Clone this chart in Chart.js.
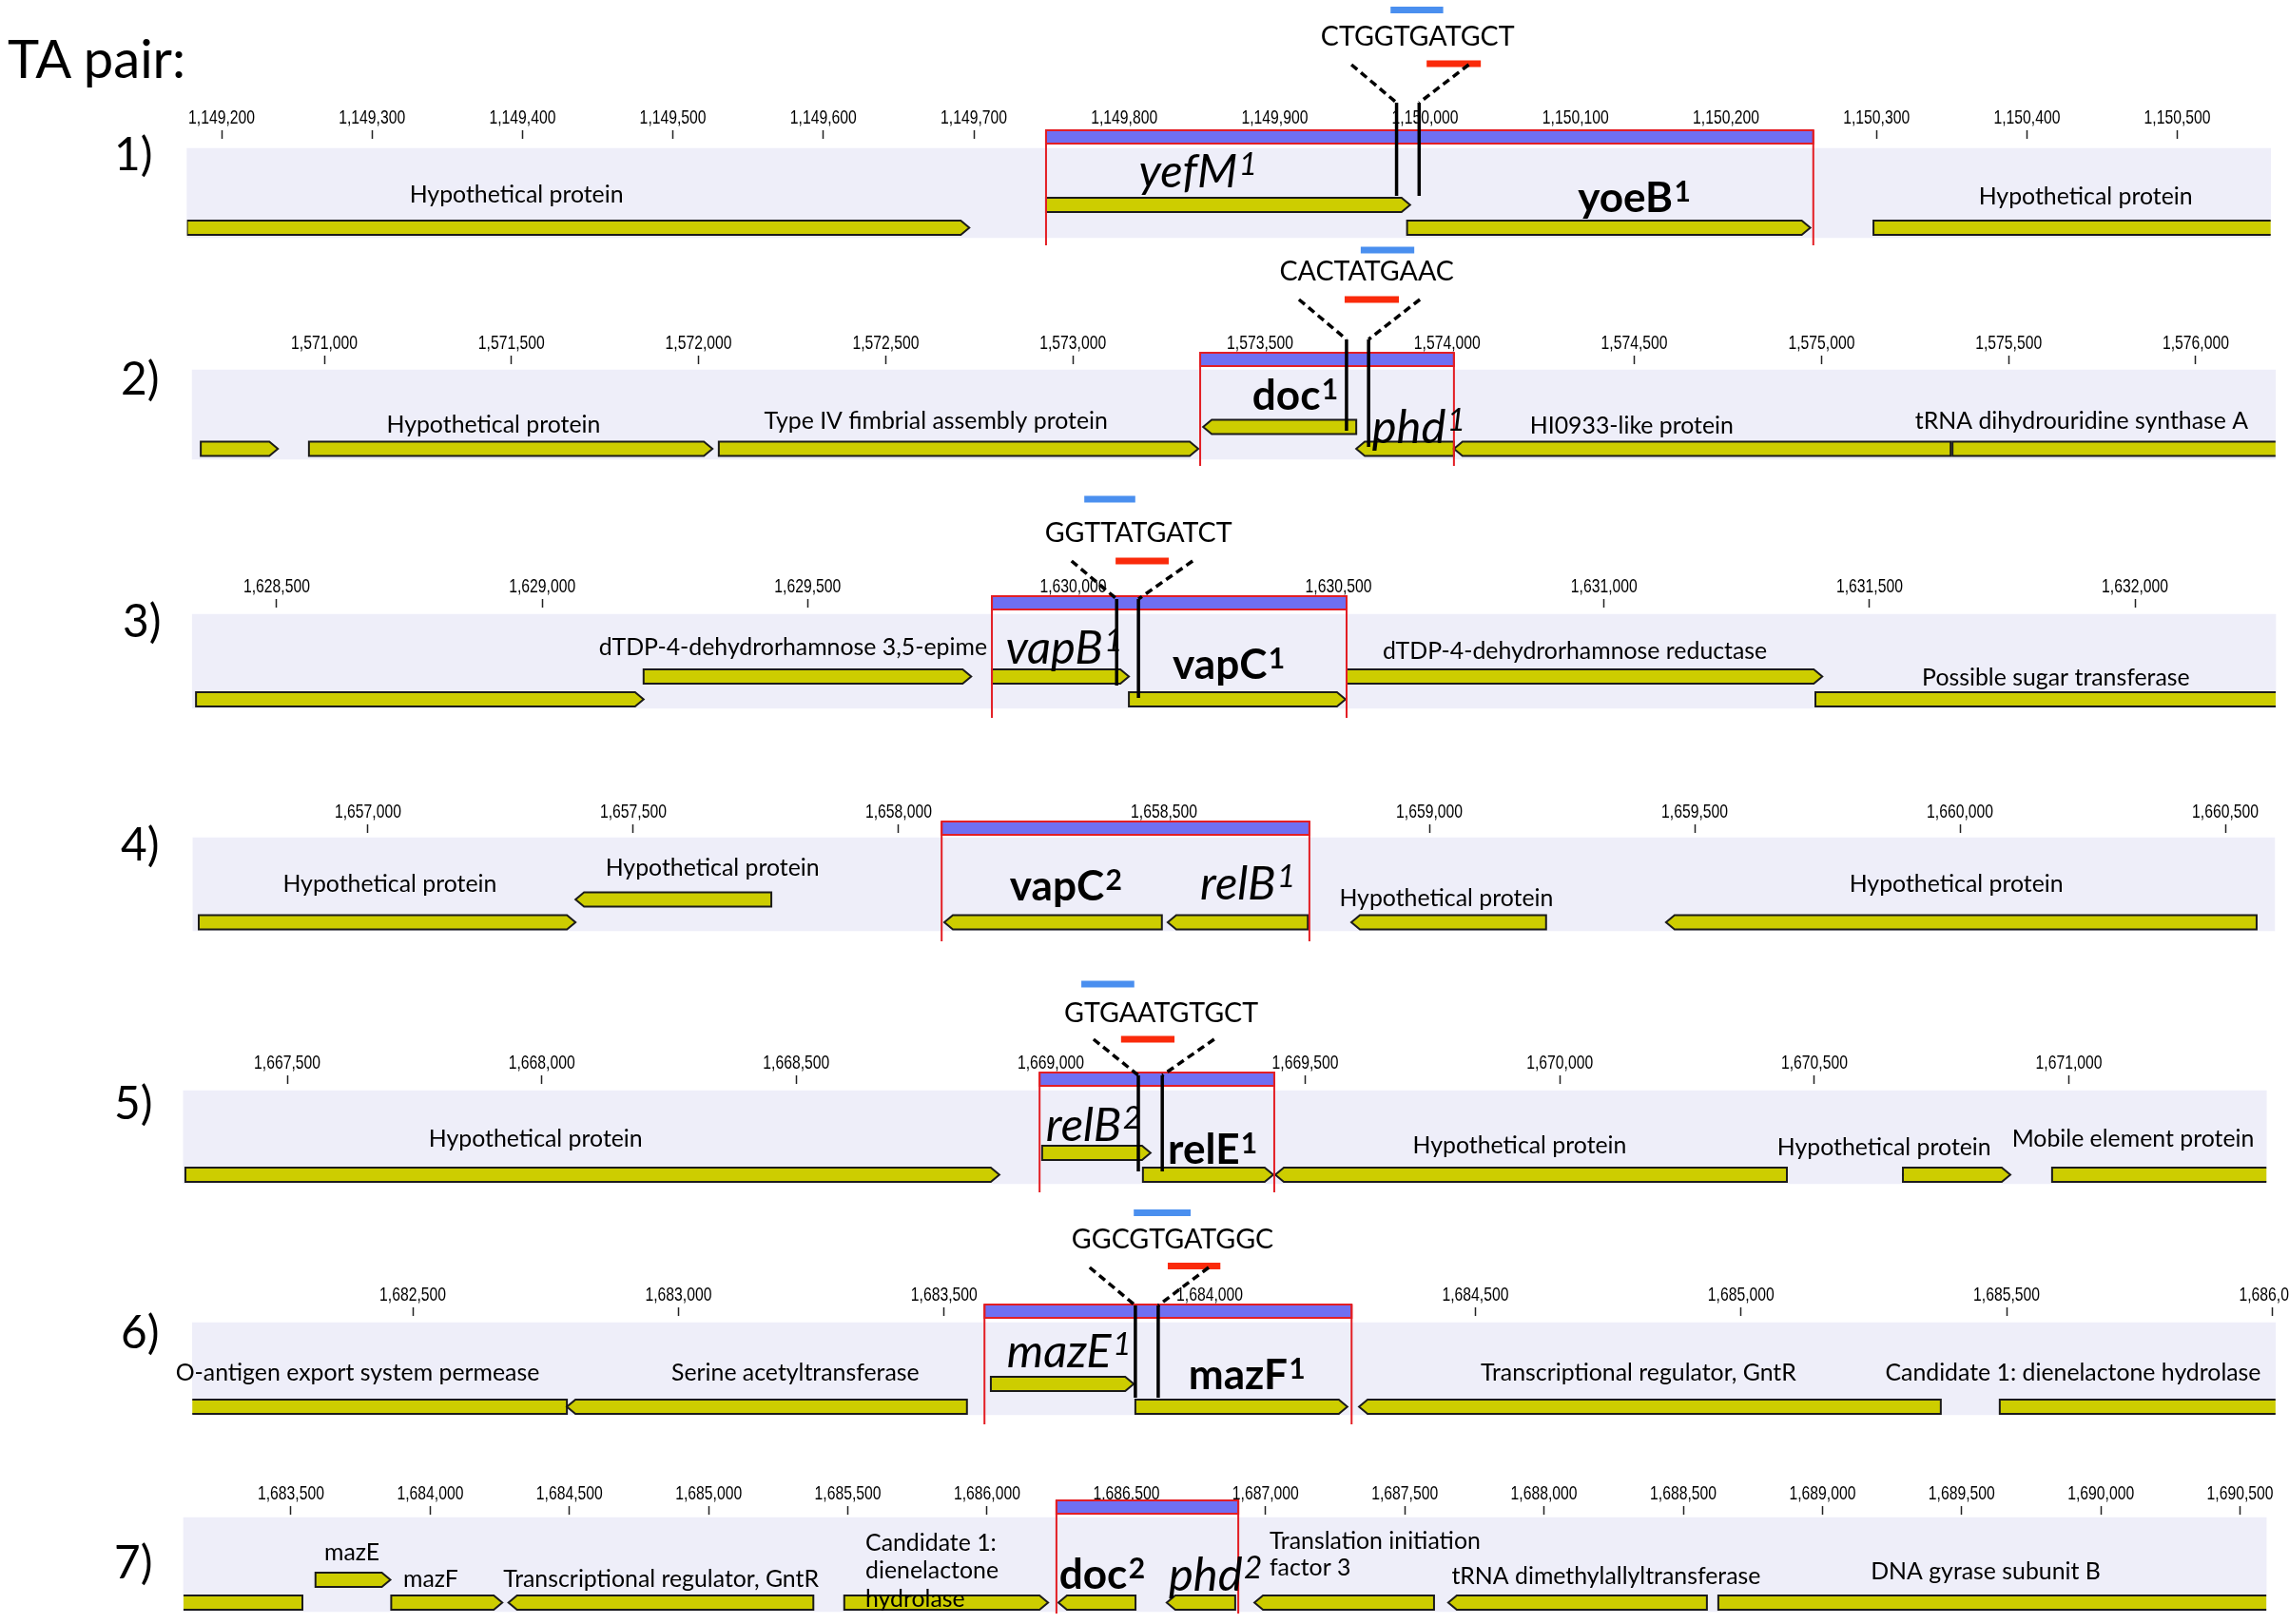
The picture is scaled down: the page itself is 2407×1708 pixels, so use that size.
<!DOCTYPE html>
<html>
<head>
<meta charset="utf-8">
<title>TA pairs</title>
<script src="https://cdn.jsdelivr.net/npm/chart.js"></script>
<style>
  html, body { margin: 0; padding: 0; background: #fff; }
  #page { position: relative; width: 2407px; height: 1708px; overflow: hidden; background: #fff; }
  .trk { position: absolute; left: 0; }
  .head { position: absolute; font-family: Lato, "Open Sans", sans-serif; line-height: 1; white-space: nowrap; color: #000; }
</style>
</head>
<body>
<div id="page"></div>
<script>
// ---- tick labels (bp) for each track
const ticks1 = [1149200, 1149300, 1149400, 1149500, 1149600, 1149700, 1149800, 1149900, 1150000, 1150100, 1150200, 1150300, 1150400, 1150500];
const ticks2 = [1571000, 1571500, 1572000, 1572500, 1573000, 1573500, 1574000, 1574500, 1575000, 1575500, 1576000];
const ticks3 = [1628500, 1629000, 1629500, 1630000, 1630500, 1631000, 1631500, 1632000];
const ticks4 = [1657000, 1657500, 1658000, 1658500, 1659000, 1659500, 1660000, 1660500];
const ticks5 = [1667500, 1668000, 1668500, 1669000, 1669500, 1670000, 1670500, 1671000];
const ticks6 = [1682500, 1683000, 1683500, 1684000, 1684500, 1685000, 1685500, 1686000];
const ticks7 = [1683500, 1684000, 1684500, 1685000, 1685500, 1686000, 1686500, 1687000, 1687500, 1688000, 1688500, 1689000, 1689500, 1690000, 1690500];

// ---- shown sequence (lavender band) and TA region (red box), bp
const view1 = [1149177, 1150562], box1 = [1149748, 1150258];
const view2 = [1570647, 1576213], box2 = [1573340, 1574018];
const view3 = [1628341, 1632265], box3 = [1629847, 1630515];
const view4 = [1656670, 1660593], box4 = [1658081, 1658774];
const view5 = [1667296, 1671388], box5 = [1668978, 1669439];
const view6 = [1682085, 1686006], box6 = [1683576, 1684267];
const view7 = [1683114, 1690594], box7 = [1686249, 1686902];

// ---- genes: [start, end, strand, row]  row 0 = upper, 1 = lower
const genes1 = [[1149177, 1149697, 1, 1], [1149748, 1149990, 1, 0], [1149988, 1150256, 1, 1], [1150298, 1150700, 1, 1]];
const genes2 = [[1570670, 1570876, 1, 1], [1570959, 1572037, 1, 1], [1572054, 1573335, 1, 1], [1573348, 1573757, -1, 0],
                [1573757, 1574018, -1, 1], [1574018, 1575345, -1, 1], [1575350, 1576400, 1, 1]];
const genes3 = [[1628348, 1629191, 1, 1], [1629191, 1629808, 1, 0], [1629847, 1630105, 1, 0], [1630105, 1630513, 1, 1],
                [1630515, 1631411, 1, 0], [1631398, 1632400, 1, 1]];
const genes4 = [[1656681, 1657391, 1, 1], [1657391, 1657760, -1, 0], [1658086, 1658496, -1, 1], [1658507, 1658771, -1, 1],
                [1658853, 1659220, -1, 1], [1659446, 1660559, -1, 1]];
const genes5 = [[1667300, 1668899, 1, 1], [1668983, 1669196, 1, 0], [1669181, 1669437, 1, 1], [1669441, 1670446, -1, 1],
                [1670674, 1670885, 1, 1], [1670967, 1671500, 1, 1]];
const genes6 = [[1682000, 1682790, -1, 1], [1682790, 1683543, -1, 1], [1683588, 1683857, 1, 0], [1683860, 1684259, 1, 1],
                [1684281, 1685376, -1, 1], [1685487, 1686200, 1, 1]];
const genes7 = [[1683000, 1683541, -1, 1], [1683588, 1683857, 1, 0], [1683860, 1684259, 1, 1], [1684281, 1685376, -1, 1],
                [1685487, 1686219, 1, 1], [1686256, 1686533, -1, 1], [1686645, 1686891, -1, 1], [1686960, 1687605, -1, 1],
                [1687656, 1688585, -1, 1], [1688626, 1690800, 1, 1]];

// ---- gene names (at = bp anchor, dy = px below band top, s = b/i big, a = l/r align)
const labels1 = [
  { t: 'Hypothetical protein', at: 1149396, dy: 51 },
  { t: 'yefM', sup: '1', s: 'i', at: 1149849, dy: 28 },
  { t: 'yoeB', sup: '1', s: 'b', at: 1150139, dy: 56 },
  { t: 'Hypothetical protein', at: 1150439, dy: 53 }
];
const labels2 = [
  { t: 'Hypothetical protein', at: 1571452, dy: 60 },
  { t: 'Type IV fimbrial assembly protein', at: 1572634, dy: 56 },
  { t: 'doc', sup: '1', s: 'b', at: 1573594, dy: 31 },
  { t: 'phd', sup: '1', s: 'i', at: 1573924, dy: 64 },
  { t: 'HI0933-like protein', at: 1574493, dy: 61 },
  { t: 'tRNA dihydrouridine synthase A', at: 1575695, dy: 56 }
];
const labels3 = [
  { t: 'dTDP-4-dehydrorhamnose 3,5-epime', at: 1629838, dy: 37, a: 'r' },
  { t: 'vapB', sup: '1', s: 'i', at: 1629983, dy: 39 },
  { t: 'vapC', sup: '1', s: 'b', at: 1630293, dy: 57 },
  { t: 'dTDP-4-dehydrorhamnose reductase', at: 1630945, dy: 41 },
  { t: 'Possible sugar transferase', at: 1631851, dy: 69 }
];
const labels4 = [
  { t: 'Hypothetical protein', at: 1657041, dy: 51 },
  { t: 'Hypothetical protein', at: 1657649, dy: 34 },
  { t: 'vapC', sup: '2', s: 'b', at: 1658315, dy: 55 },
  { t: 'relB', sup: '1', s: 'i', at: 1658658, dy: 52 },
  { t: 'Hypothetical protein', at: 1659032, dy: 66 },
  { t: 'Hypothetical protein', at: 1659993, dy: 51 }
];
const labels5 = [
  { t: 'Hypothetical protein', at: 1667988, dy: 53 },
  { t: 'relB', sup: '2', s: 'i', at: 1669084, dy: 40 },
  { t: 'relE', sup: '1', s: 'b', at: 1669318, dy: 66 },
  { t: 'Hypothetical protein', at: 1669921, dy: 60 },
  { t: 'Hypothetical protein', at: 1670637, dy: 62 },
  { t: 'Mobile element protein', at: 1671126, dy: 53 }
];
const labels6 = [
  { t: 'O-antigen export system permease', at: 1682396, dy: 55 },
  { t: 'Serine acetyltransferase', at: 1683220, dy: 55 },
  { t: 'mazE', sup: '1', s: 'i', at: 1683735, dy: 34 },
  { t: 'mazF', sup: '1', s: 'b', at: 1684070, dy: 59 },
  { t: 'Transcriptional regulator, GntR', at: 1684807, dy: 55 },
  { t: 'Candidate 1: dienelactone hydrolase', at: 1685625, dy: 55 }
];
const labels7 = [
  { t: 'mazE', at: 1683719, dy: 39 },
  { t: 'mazF', at: 1684002, dy: 67 },
  { t: 'Transcriptional regulator, GntR', at: 1684829, dy: 67 },
  { t: 'Candidate 1:', at: 1685563, dy: 29, a: 'l' },
  { t: 'dienelactone', at: 1685563, dy: 58, a: 'l' },
  { t: 'hydrolase', at: 1685563, dy: 88, a: 'l' },
  { t: 'doc', sup: '2', s: 'b', at: 1686413, dy: 64 },
  { t: 'phd', sup: '2', s: 'i', at: 1686820, dy: 64 },
  { t: 'Translation initiation', at: 1687014, dy: 27, a: 'l' },
  { t: 'factor 3', at: 1687014, dy: 55, a: 'l' },
  { t: 'tRNA dimethylallyltransferase', at: 1688223, dy: 64 },
  { t: 'DNA gyrase subunit B', at: 1689586, dy: 59 }
];

// ---- sequence at the junction: text, cut points, blue / red marks, flare tops (bp)
const site1 = { seq: 'CTGGTGATGCT', at: 1149995, cuts: [1149981, 1149996], blue: [1149977, 1150012], red: [1150001, 1150037], flare: [1149951, 1150029] };
const site2 = { seq: 'CACTATGAAC', at: 1573785, cuts: [1573731, 1573790], blue: [1573769, 1573912], red: [1573726, 1573871], flare: [1573604, 1573927] };
const site3 = { seq: 'GGTTATGATCT', at: 1630123, cuts: [1630082, 1630123], blue: [1630021, 1630117], red: [1630080, 1630180], flare: [1629997, 1630225] };
const site5 = { seq: 'GTGAATGTGCT', at: 1669217, cuts: [1669172, 1669219], blue: [1669060, 1669164], red: [1669138, 1669243], flare: [1669084, 1669321] };
const site6 = { seq: 'GGCGTGATGGC', at: 1683930, cuts: [1683860, 1683903], blue: [1683857, 1683964], red: [1683921, 1684020], flare: [1683774, 1683998] };

// vertical layout of the site drawing, px from band top
const siteY1 = { text: -118, blue: -145.5, red: -89, dashTop: -88, dashBot: -48, ends: [50, 50] };
const siteY2 = { text: -104, blue: -126, red: -74, dashTop: -74, dashBot: -32, ends: [64, 81] };
const siteY3 = { text: -86, blue: -121, red: -56, dashTop: -56, dashBot: -16, ends: [75, 88] };
const siteY5 = { text: -82, blue: -112, red: -54, dashTop: -54, dashBot: -16, ends: [85, 85] };
const siteY6 = { text: -88, blue: -115.5, red: -59.5, dashTop: -58, dashBot: -18, ends: [79, 79] };

const pairNames = ['1)', '2)', '3)', '4)', '5)', '6)', '7)'];

// ---- layout / style
const pairLeft = [120, 127, 129, 127, 120, 127, 120];
const pairBase = [179, 415, 670, 905, 1177, 1418, 1660];

const tracks = [
  { axisBottom: 146, gap: 10, bandH: 94, lanes: [59.5, 83.5], boxY: [-19, 102], range: [1149052.7, 1150574.2],
    ticks: ticks1, view: view1, box: box1, genes: genes1, labels: labels1, site: site1, siteY: siteY1 },
  { axisBottom: 383, gap: 6, bandH: 94, lanes: [60, 83], boxY: [-18, 101], range: [1570133.6, 1576249],
    ticks: ticks2, view: view2, box: box2, genes: genes2, labels: labels2, site: site2, siteY: siteY2 },
  { axisBottom: 639, gap: 7, bandH: 99, lanes: [65.5, 89.5], boxY: [-19, 109], range: [1627978.8, 1632290],
    ticks: ticks3, view: view3, box: box3, genes: genes3, labels: labels3, site: site3, siteY: siteY3 },
  { axisBottom: 876, gap: 5, bandH: 98, lanes: [65, 89], boxY: [-17, 109], range: [1656306.5, 1660620],
    ticks: ticks4, view: view4, box: box4, genes: genes4, labels: labels4 },
  { axisBottom: 1140, gap: 7, bandH: 98, lanes: [65.5, 88.5], boxY: [-19, 107], range: [1666935.8, 1671432.4],
    ticks: ticks5, view: view5, box: box5, genes: genes5, labels: labels5, site: site5, siteY: siteY5 },
  { axisBottom: 1384, gap: 7, bandH: 97, lanes: [64.5, 88.5], boxY: [-19, 107], range: [1681723, 1686031.4],
    ticks: ticks6, view: view6, box: box6, genes: genes6, labels: labels6, site: site6, siteY: siteY6 },
  { axisBottom: 1593, gap: 3, bandH: 99, lanes: [65.5, 89.5], boxY: [-18, 101], range: [1682455, 1690675.5],
    ticks: ticks7, view: view7, box: box7, genes: genes7, labels: labels7 }
];

const AXIS_H = 170;
const PLOT_BELOW = 122;
const TICK_LEN = 9;
const TICK_GAP = 22;          // tick label centre above the axis line
const LABEL_FONT = 'Lato, "Open Sans", sans-serif';
const TICK_FONT = '"Liberation Sans", Arial, sans-serif';
const TICK_PX = 21;
const SUP = 0.68;
const BAND = '#eeeef9';
const GENE = '#cdcd00';
const PURPLE = '#6f6ff2';
const REDLINE = '#e31e24';
const BLUE = '#4a8fef';
const REDBAR = '#fa2a0a';

// font sizes fitted to the widths of a few reference strings
const meas = document.createElement('canvas').getContext('2d');
function fitSize(text, width, style, family) {
  meas.font = style + ' 100px ' + family;
  return 100 * width / meas.measureText(text).width;
}
const geneSize = fitSize('Hypothetical protein', 225, 'normal', LABEL_FONT);
const boldSize = fitSize('yoeB', 100, 'bold', LABEL_FONT);
const italicSize = fitSize('mazE', 110, 'italic', LABEL_FONT);
const seqSize = fitSize('CTGGTGATGCT', 204, 'normal', LABEL_FONT);
const headSize = fitSize('TA pair:', 189, 'normal', LABEL_FONT);
// tick labels are a condensed face: keep the height, squeeze the width
const tickSqueeze = fitSize('1,149,200', 70, 'normal', TICK_FONT) / TICK_PX;

const page = document.getElementById('page');

function drawTickLabels(ctx, xs, Y, t) {
  ctx.save();
  ctx.fillStyle = '#000';
  ctx.font = TICK_PX + 'px ' + TICK_FONT;
  ctx.textAlign = 'center';
  ctx.textBaseline = 'middle';
  const yc = Y(-t.gap - TICK_GAP);
  xs.ticks.forEach(tk => {
    ctx.save();
    ctx.translate(xs.getPixelForValue(tk.value), yc);
    ctx.scale(tickSqueeze, 1);
    ctx.fillText(tk.value.toLocaleString('en-US'), 0, 0);
    ctx.restore();
  });
  ctx.restore();
}

function drawLabel(ctx, lb, X, Y) {
  const s = lb.s || 'n';
  const size = s === 'b' ? boldSize : s === 'i' ? italicSize : geneSize;
  const pre = s === 'b' ? 'bold ' : s === 'i' ? 'italic ' : '';
  const supSize = size * SUP;
  ctx.font = pre + size + 'px ' + LABEL_FONT;
  const w = ctx.measureText(lb.t).width;
  let sw = 0;
  if (lb.sup) {
    ctx.font = pre + supSize + 'px ' + LABEL_FONT;
    sw = ctx.measureText(lb.sup).width + size * 0.03;
  }
  const total = w + sw;
  const ax = X(lb.at);
  const x0 = lb.a === 'l' ? ax : lb.a === 'r' ? ax - total : ax - total / 2;
  const base = Y(lb.dy) + size * 0.26;
  ctx.fillStyle = '#000';
  ctx.textAlign = 'left';
  ctx.textBaseline = 'alphabetic';
  ctx.font = pre + size + 'px ' + LABEL_FONT;
  ctx.fillText(lb.t, x0, base);
  if (lb.sup) {
    ctx.font = pre + supSize + 'px ' + LABEL_FONT;
    ctx.fillText(lb.sup, x0 + w + size * 0.03, base - size * 0.25);
  }
}

function drawSite(ctx, s, L, X, Y) {
  // blue / red marks
  ctx.fillStyle = BLUE;
  ctx.fillRect(X(s.blue[0]), Y(L.blue - 3.5), X(s.blue[1]) - X(s.blue[0]), Y(L.blue + 3.5) - Y(L.blue - 3.5));
  ctx.fillStyle = REDBAR;
  ctx.fillRect(X(s.red[0]), Y(L.red - 3.5), X(s.red[1]) - X(s.red[0]), Y(L.red + 3.5) - Y(L.red - 3.5));

  // sequence text
  ctx.fillStyle = '#000';
  ctx.font = seqSize + 'px ' + LABEL_FONT;
  ctx.textAlign = 'center';
  ctx.textBaseline = 'alphabetic';
  ctx.fillText(s.seq, X(s.at), Y(L.text) + seqSize * 0.36);

  // dashed flare
  ctx.strokeStyle = '#000';
  ctx.lineWidth = 3.5;
  ctx.setLineDash([8, 5]);
  for (let i = 0; i < 2; i++) {
    ctx.beginPath();
    ctx.moveTo(X(s.flare[i]), Y(L.dashTop));
    ctx.lineTo(X(s.cuts[i]), Y(L.dashBot));
    ctx.stroke();
  }
  ctx.setLineDash([]);
  // cut lines
  for (let i = 0; i < 2; i++) {
    ctx.beginPath();
    ctx.moveTo(X(s.cuts[i]), Y(L.dashBot));
    ctx.lineTo(X(s.cuts[i]), Y(L.ends[i]));
    ctx.stroke();
  }
}

function trackPlugin(t) {
  return {
    id: 'taTrack',
    afterDatasetsDraw(chart) {
      const ctx = chart.ctx;
      const xs = chart.scales.x, ys = chart.scales.y;
      const X = v => xs.getPixelForValue(v);
      const Y = v => ys.getPixelForValue(v);

      drawTickLabels(ctx, xs, Y, t);

      // gene arrows from the bar elements, clipped to the shown sequence
      const left = X(t.view[0]), right = X(t.view[1]);
      ctx.save();
      ctx.beginPath();
      ctx.rect(left, 0, right - left, chart.height);
      ctx.clip();
      chart.getDatasetMeta(1).data.forEach((bar, i) => {
        const p = bar.getProps(['x', 'base', 'y', 'height'], true);
        const l = Math.min(p.x, p.base), r = Math.max(p.x, p.base);
        const top = p.y - p.height / 2, bot = p.y + p.height / 2;
        const tip = Math.min(9, r - l);
        ctx.beginPath();
        if (t.genes[i][2] > 0) {
          ctx.moveTo(l, top); ctx.lineTo(r - tip, top); ctx.lineTo(r, p.y);
          ctx.lineTo(r - tip, bot); ctx.lineTo(l, bot);
        } else {
          ctx.moveTo(r, top); ctx.lineTo(l + tip, top); ctx.lineTo(l, p.y);
          ctx.lineTo(l + tip, bot); ctx.lineTo(r, bot);
        }
        ctx.closePath();
        ctx.fillStyle = GENE;
        ctx.fill();
        ctx.lineWidth = 2;
        ctx.strokeStyle = '#1b1b1b';
        ctx.stroke();
      });
      ctx.restore();

      // TA region box
      const bl = X(t.box[0]), br = X(t.box[1]);
      const bt = Y(t.boxY[0]), bh = Y(t.boxY[0] + 14) - bt, bb = Y(t.boxY[1]);
      ctx.fillStyle = PURPLE;
      ctx.fillRect(bl, bt, br - bl, bh);
      ctx.strokeStyle = REDLINE;
      ctx.lineWidth = 2;
      ctx.strokeRect(bl, bt, br - bl, bh);
      ctx.beginPath();
      ctx.moveTo(bl, bt); ctx.lineTo(bl, bb);
      ctx.moveTo(br, bt); ctx.lineTo(br, bb);
      ctx.stroke();

      t.labels.forEach(lb => drawLabel(ctx, lb, X, Y));
      if (t.site) drawSite(ctx, t.site, t.siteY, X, Y);
    }
  };
}

function addTrack(t) {
  const h = AXIS_H + t.gap + PLOT_BELOW;
  const div = document.createElement('div');
  div.className = 'trk';
  div.style.top = (t.axisBottom - AXIS_H) + 'px';
  const cv = document.createElement('canvas');
  cv.width = 2407;
  cv.height = h;
  div.appendChild(cv);
  page.appendChild(div);

  new Chart(cv, {
    type: 'bar',
    data: {
      datasets: [
        { label: 'sequence', data: [{ x: t.view, y: t.bandH / 2 }], barThickness: t.bandH,
          backgroundColor: BAND, borderWidth: 0, stack: 'trk' },
        { label: 'genes', data: t.genes.map(g => ({ x: [g[0], g[1]], y: t.lanes[g[3]] })),
          barThickness: 15, backgroundColor: 'rgba(0,0,0,0)', borderWidth: 0, stack: 'trk' }
      ]
    },
    options: {
      indexAxis: 'y',
      responsive: false,
      animation: false,
      events: [],
      layout: { padding: 0, autoPadding: false },
      plugins: { legend: { display: false }, tooltip: { enabled: false } },
      scales: {
        x: {
          type: 'linear', position: 'top', min: t.range[0], max: t.range[1],
          stacked: false, offset: false, beginAtZero: false,
          afterBuildTicks: s => { s.ticks = t.ticks.map(v => ({ value: v })); },
          afterFit: s => { s.height = AXIS_H; s.paddingLeft = 0; s.paddingRight = 0; },
          ticks: { display: false, autoSkip: false, maxRotation: 0 },
          grid: { drawOnChartArea: false, drawTicks: true, tickLength: TICK_LEN, tickColor: '#222', tickWidth: 1.5, offset: false },
          border: { display: false }
        },
        y: { type: 'linear', display: false, reverse: true, offset: false, min: -t.gap, max: PLOT_BELOW }
      }
    },
    plugins: [trackPlugin(t)]
  });
}

function addHead(text, left, baseline, size) {
  const d = document.createElement('div');
  d.className = 'head';
  d.textContent = text;
  d.style.fontSize = size + 'px';
  d.style.left = left + 'px';
  d.style.top = (baseline - 0.887 * size) + 'px';
  page.appendChild(d);
}

tracks.forEach(addTrack);
addHead('TA pair:', 8, 83, headSize);
pairNames.forEach((p, i) => addHead(p, pairLeft[i], pairBase[i], headSize * 0.85));
</script>
</body>
</html>
